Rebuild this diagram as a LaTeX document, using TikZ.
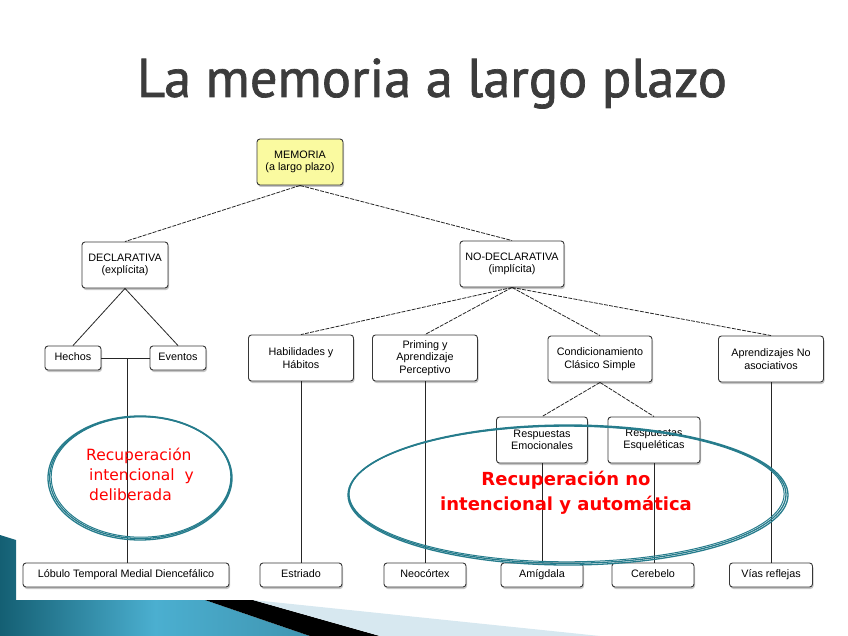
\documentclass[tikz,border=0pt]{standalone}
\usepackage{fontspec}
\setmainfont{Liberation Sans}
\newfontfamily\titlefont[FakeBold=1.3]{PT Sans}
\newfontfamily\redfont{DejaVu Sans}
\usetikzlibrary{shadows}
\definecolor{tealring}{RGB}{38,124,140}
\definecolor{titlegray}{RGB}{60,60,60}
\definecolor{memyellow}{RGB}{250,250,160}
\definecolor{boxline}{RGB}{55,55,55}
\definecolor{tealdark}{RGB}{20,95,115}
\definecolor{teallight}{RGB}{75,175,208}
\definecolor{paleblue}{RGB}{215,232,240}
\tikzset{
  cbox/.style={draw=boxline, fill=white, rounded corners=3pt, line width=0.9pt,
    drop shadow={shadow xshift=1pt, shadow yshift=-2pt, opacity=0.45},
    align=center, inner sep=0pt, font=\fontsize{10.8}{12.5}\selectfont},
  twoline/.style={cbox, minimum height=46pt},
  oneline/.style={cbox, minimum height=24pt, text height=8pt, text depth=2.5pt},
  conn/.style={draw=black!85, line width=0.8pt},
  dconn/.style={conn, dash pattern=on 4pt off 1.2pt},
  ring/.style={draw=tealring, line width=1.3pt},
  redtxt/.style={text=red, inner sep=0pt}
}
\begin{document}
\begin{tikzpicture}[x=1pt,y=-1pt]
\useasboundingbox (0,0) rectangle (848,636);
% bottom-left decoration
\shade[left color=tealdark, right color=teallight!85!black, middle color=teallight]
  (0,535) -- (16,540) -- (16,600) -- (205,600) -- (310,636) -- (0,636) -- cycle;
\fill[black] (205,600) -- (253,600) -- (380,636) -- (310,636) -- cycle;
\fill[paleblue] (253,600) -- (600,636) -- (380,636) -- cycle;
% title
\node[anchor=base, text=titlegray, inner sep=0pt, font=\titlefont\fontsize{54.5}{60}\selectfont]
  (title) at (432,97) {La memoria a largo plazo};
% nodes
\node[twoline, fill=memyellow, minimum width=86pt] (mem) at (300,162) {MEMORIA\\(a largo plazo)};
\node[twoline, minimum width=86pt] (decl) at (125,265) {DECLARATIVA\\(explícita)};
\node[twoline, minimum width=104pt] (nodecl) at (512,264) {NO-DECLARATIVA\\(implícita)};
\node[oneline, minimum width=56pt] (hechos) at (73,358) {Hechos};
\node[oneline, minimum width=56pt] (eventos) at (178,358) {Eventos};
\node[twoline, minimum width=105pt] (habil) at (301,358) {Habilidades y\\Hábitos};
\node[twoline, minimum width=105pt] (priming) at (425,358) {Priming y\\Aprendizaje\\Perceptivo};
\node[twoline, minimum width=104pt] (condic) at (600,359) {Condicionamiento\\Clásico Simple};
\node[twoline, minimum width=105pt] (aprend) at (771,359) {Aprendizajes No\\asociativos};
\node[twoline, minimum width=91pt] (emoc) at (542,440) {Respuestas\\Emocionales};
\node[twoline, minimum width=92pt] (esq) at (654,440) {Respuestas\\Esqueléticas};
\node[oneline, minimum width=206pt] (lobulo) at (126,575) {Lóbulo Temporal Medial Diencefálico};
\node[oneline, minimum width=82pt] (estriado) at (301,575) {Estriado};
\node[oneline, minimum width=82pt] (neoc) at (425,575) {Neocórtex};
\node[oneline, minimum width=82pt] (amig) at (542,575) {Amígdala};
\node[oneline, minimum width=82pt] (cereb) at (653,575) {Cerebelo};
\node[oneline, minimum width=83pt] (vias) at (771,575) {Vías reflejas};
\coordinate (j) at (127,358);
% connectors
\draw[dconn] (mem.south) -- (decl.north);
\draw[dconn] (mem.south) -- (nodecl.north);
\draw[conn] (decl.south) -- (hechos.north);
\draw[conn] (decl.south) -- (eventos.north);
\draw[conn] (hechos.east) -- (eventos.west);
\draw[conn] (j) -- (j |- lobulo.north);
\draw[dconn] (nodecl.south) -- (habil.north);
\draw[dconn] (nodecl.south) -- (priming.north);
\draw[dconn] (nodecl.south) -- (condic.north);
\draw[dconn] (nodecl.south) -- (aprend.north);
\draw[dconn] (condic.south) -- (emoc.north);
\draw[dconn] (condic.south) -- (esq.north);
\draw[conn] (habil.south) -- (habil.south |- estriado.north);
\draw[conn] (priming.south) -- (priming.south |- neoc.north);
\draw[conn] (emoc.south) -- (emoc.south |- amig.north);
\draw[conn] (esq.south) -- (esq.south |- cereb.north);
\draw[conn] (aprend.south) -- (aprend.south |- vias.north);
% rings
\draw[ring] (140,478) ellipse [x radius=92, y radius=62];
\draw[ring] (140.5,477.5) ellipse [x radius=90.8, y radius=61];
\draw[ring, line width=1pt] (141,477) ellipse [x radius=89.8, y radius=60.2];
\draw[ring] (568,495) ellipse [x radius=220, y radius=70];
\draw[ring] (567.3,494.5) ellipse [x radius=218.7, y radius=68.8];
\draw[ring, line width=1pt] (566.6,494) ellipse [x radius=217.5, y radius=67.8];
% red texts
\node[redtxt, anchor=base west, align=left, font=\redfont\fontsize{15.5}{20}\selectfont]
  (lefttxt) at (86,500) {Recuperación\\\hspace{3pt}intencional\ \ y\\\hspace{3pt}deliberada};
\node[redtxt, anchor=base, align=center, font=\redfont\bfseries\fontsize{18}{25}\selectfont]
  (righttxt) at (566,510) {Recuperación no\\intencional y automática};
\end{tikzpicture}
\end{document}
